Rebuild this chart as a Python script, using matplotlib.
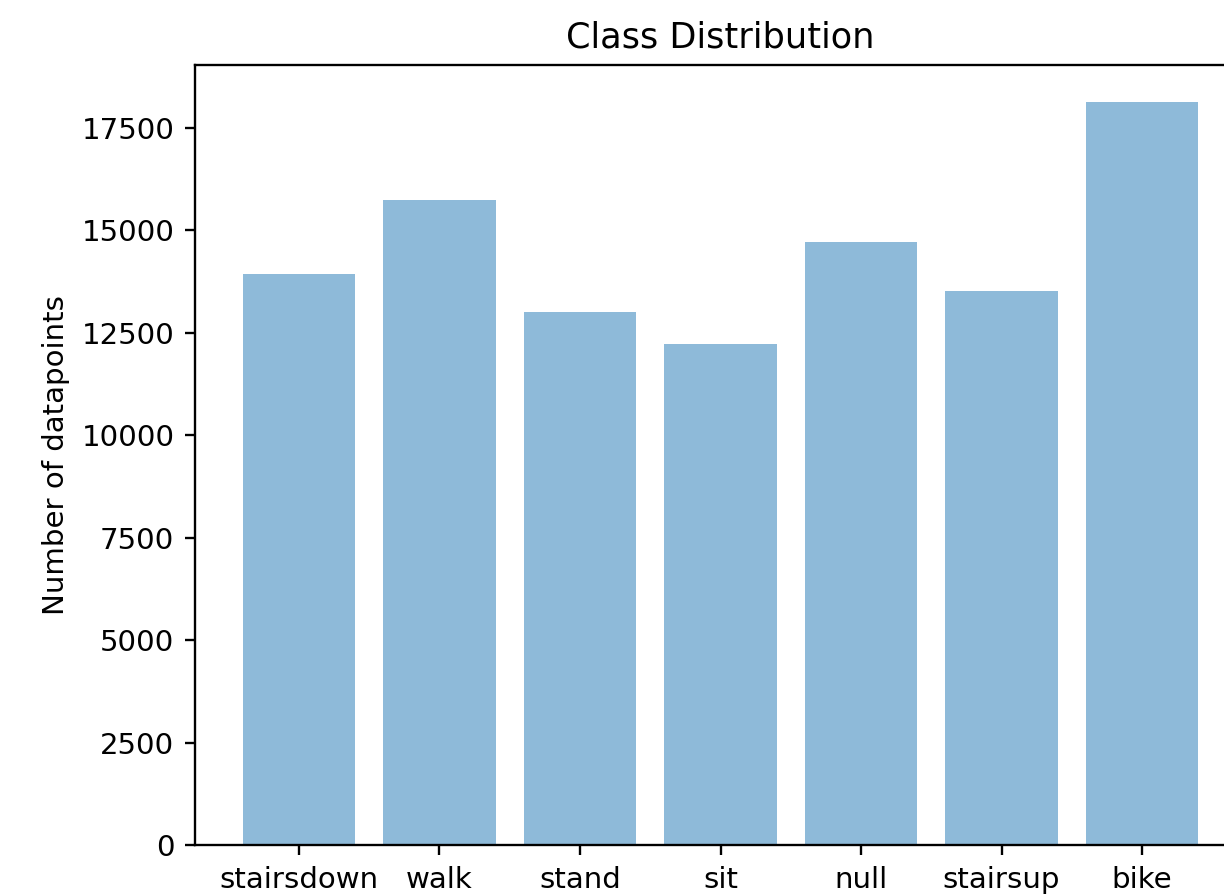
import matplotlib
matplotlib.use("Agg")
import matplotlib.pyplot as plt

classes = ['stairsdown', 'walk', 'stand', 'sit', 'null', 'stairsup', 'bike']
counts = [13930, 15740, 12990, 12220, 14700, 13510, 18120]

scale = 2.11
plt.rcParams.update({
    'font.size': 10 * scale,
    'axes.linewidth': 0.8 * scale,
    'xtick.major.width': 0.8 * scale,
    'ytick.major.width': 0.8 * scale,
    'xtick.major.size': 3.5 * scale,
    'ytick.major.size': 3.5 * scale,
    'xtick.major.pad': 3.5 * scale,
    'ytick.major.pad': 3.5 * scale,
    'axes.titlepad': 6 * scale,
    'axes.labelpad': 4 * scale,
})

fig = plt.figure(figsize=(12.24, 8.96), dpi=100)
ax = fig.add_axes([195 / 1224, 51 / 896, 1051 / 1224, 780 / 896])

y_pos = range(len(classes))
ax.bar(y_pos, counts, align='center', alpha=0.5)
ax.set_xticks(list(y_pos))
ax.set_xticklabels(classes)
ax.set_ylabel('Number of datapoints')
ax.set_title('Class Distribution')

fig.savefig('out.png', dpi=100)
